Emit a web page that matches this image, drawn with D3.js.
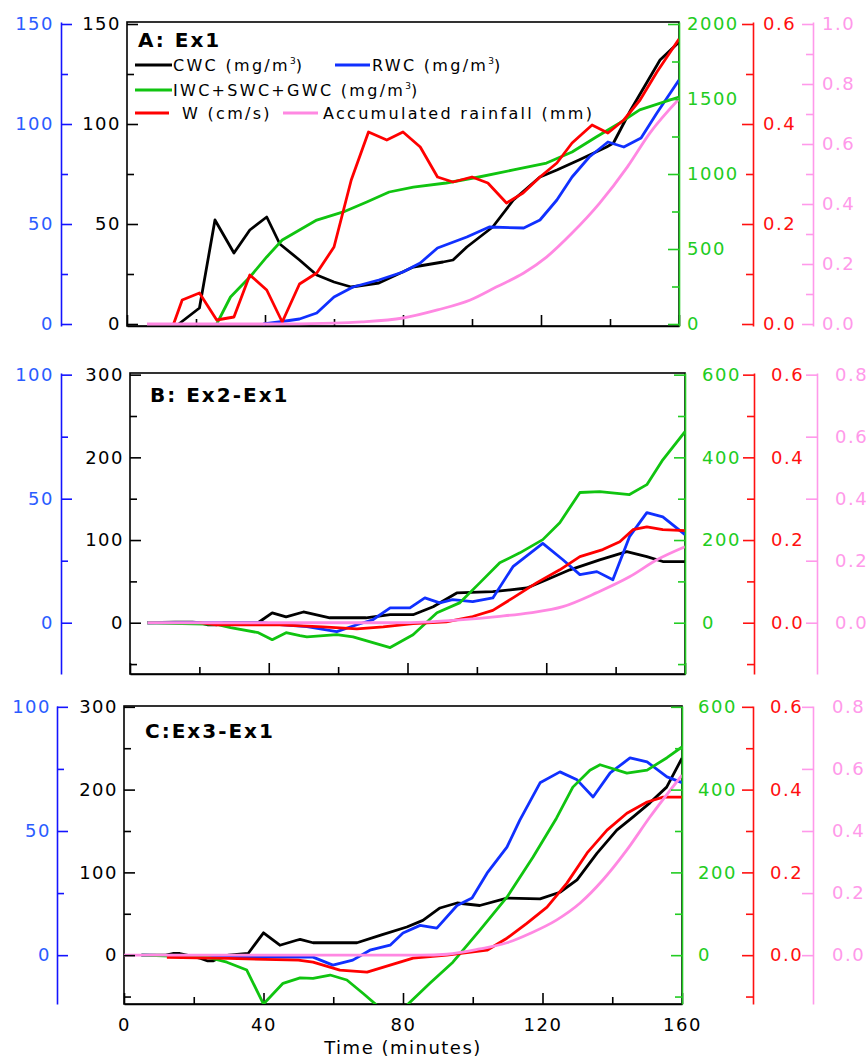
<!DOCTYPE html>
<html>
<meta charset="utf-8">
<head>
  <script src="https://d3js.org/d3.v7.min.js"></script>
  <style>
    body { margin: 0; background: #fff; }
    svg text { font-family: "DejaVu Sans", sans-serif; }
  </style>
</head>
<body>
<div id="chart"></div>
<script>
"use strict";

// ---- values: [time (min), value] ----
// panel A : Ex1
var aCWC  = [[15,0],[21,8],[25.5,52],[31,35.5],[35.6,47],[40.5,53.5],[44.3,40],[50,32],[55,24.5],[60,21],[65,18.5],[73,20.5],[83,28.5],[91.6,31],[94.5,32],[98.5,38.5],[106,48.5],[112,62],[119.7,73.5],[124.6,77],[131,82],[139,88.5],[141,90.5],[146,107],[154.5,132],[160,141]];
var aRWC  = [[39.5,0],[44,1],[50,2.5],[55,5.5],[60,13.5],[65.5,18.5],[73,22],[80,26],[85,30.5],[90,38],[98.5,43.5],[105,48.5],[115,48],[119.7,52],[124.6,62],[129,73.5],[134,83.5],[139.4,91],[144,88.5],[149,93],[153.6,105.5],[160,122]];
var aIWC  = [[26,0],[30,180],[35.6,313],[40.5,447],[45,560],[50,627],[55,693],[62.7,747],[69.5,813],[76,880],[83,913],[92.5,940],[102,980],[112,1027],[121.6,1073],[129,1147],[136,1247],[142.8,1340],[148.6,1427],[160,1513]];
var aW    = [[13.5,0],[16,0.048],[21,0.062],[26,0.008],[31,0.014],[35.6,0.098],[40.5,0.068],[45,0.004],[50,0.08],[55,0.102],[60,0.154],[65,0.288],[70,0.384],[75.3,0.368],[80,0.384],[85,0.354],[90,0.294],[94.5,0.284],[100,0.294],[104.6,0.282],[110,0.242],[114.8,0.262],[119.7,0.294],[124.6,0.322],[129,0.362],[134.8,0.398],[139.4,0.382],[144,0.408],[148.7,0.448],[153.6,0.504],[160,0.57]];
var aRain = [[5.8,0],[40,0],[60,0.003],[68,0.007],[80,0.02],[90,0.047],[99.5,0.08],[107,0.123],[115,0.17],[121.6,0.223],[129,0.303],[137,0.403],[145,0.523],[151.6,0.637],[160,0.75]];

// panel B : Ex2-Ex1
var bCWC  = [[5,0],[13,0.8],[18,0.8],[20,0],[22.5,-2.5],[25,-2.5],[27,0],[36.9,0],[41,12],[45,7],[50,13],[57.6,6],[68,6],[75,9.7],[81.6,9.7],[87.4,19.4],[94.2,36],[104.6,37.5],[114.4,42],[120.1,52],[126.8,64],[135.4,76],[143.2,86],[149,80],[153.6,74],[160,74]];
var bRWC  = [[5,0],[38,0],[43.2,-0.8],[51,-1.6],[59.6,-3.6],[65.4,-0.8],[70,1.2],[75,6],[80.7,6],[85,10],[89.3,8],[93,9.3],[98.8,8.5],[104.6,10],[110.4,22.6],[119,32],[124.8,25.4],[129.7,19.4],[134.6,20.6],[139.2,17.3],[144,34.7],[149,44.4],[153.6,42.7],[160,35.5]];
var bIWC  = [[5,0],[25,-4],[29,-12],[37,-24],[41,-41],[45,-24],[49,-31],[51,-34],[59.6,-29],[64.3,-34],[75,-60],[81.6,-29],[88.5,24],[95,48],[100.9,97],[106.6,145],[112.4,169],[119,201],[123.9,242],[129.7,315],[135.4,317],[144,310],[149,334],[153.6,394],[160,462]];
var bW    = [[20,0],[25,-0.005],[43.2,-0.005],[55.6,-0.01],[65.4,-0.015],[73,-0.01],[81.6,-0.002],[91.2,0.002],[98.8,0.015],[104.6,0.03],[110.4,0.06],[117.3,0.097],[123.9,0.128],[129.7,0.16],[136.3,0.177],[141.2,0.196],[145,0.225],[149,0.232],[153.6,0.225],[160,0.223]];
var bRain = [[5,0],[75,0],[86.5,0.003],[96,0.01],[105.8,0.02],[115.3,0.032],[124.8,0.052],[134.6,0.097],[144,0.148],[151.9,0.203],[160,0.245]];

// panel C : Ex3-Ex1
var cCWC  = [[5,0],[12,0],[14,2],[16,2],[18,0],[22,-4],[24,-7],[25.5,-7],[28,-2],[30,0],[35.6,2],[40,27],[44.7,12],[49.5,18],[50.5,19],[54.2,15],[66.8,15],[73.4,24],[81.1,34],[85.7,42],[90.6,57],[95.5,63],[102,60],[109.8,69],[119.3,68],[125,76],[129.9,91],[135.6,123],[141.3,151],[146,167],[150.8,184],[155.6,203],[160,238]];
var cRWC  = [[5,0],[45,-0.8],[54.2,-0.8],[59.9,-4],[65.6,-2],[70.5,2],[76.3,4],[80,8.9],[84.9,12],[89.7,10.9],[95.5,20],[99.8,23],[104.1,33],[109.8,43.5],[113.5,54.4],[119.3,69.4],[125,73.8],[129.9,70.6],[134.5,63.7],[139.4,73.4],[145.1,79.4],[150,77.8],[155.7,71.8],[160,69.5]];
var cIWC  = [[5,0],[23.8,-5],[29.5,-17],[35.2,-36],[40,-118],[45.6,-68],[50.5,-55],[54.2,-56],[59.1,-48],[63.9,-60],[68.5,-92],[72.5,-121],[77,-150],[81.1,-121],[87.7,-68],[94.3,-17],[102,60],[109.8,140],[117.3,237],[124,331],[128.7,406],[133.6,447],[136.5,460],[144.2,440],[150,447],[155.7,477],[160,503]];
var cW    = [[12.3,-0.005],[30,-0.008],[50,-0.012],[54.2,-0.017],[61.9,-0.036],[69.7,-0.041],[76.3,-0.024],[82.9,-0.007],[92.6,0],[104.1,0.012],[109.8,0.041],[115.5,0.077],[121.3,0.116],[127,0.174],[132.8,0.247],[138.5,0.302],[144.2,0.343],[150,0.37],[154.6,0.382],[160,0.382]];
var cRain = [[0,0],[85,0],[92.6,0.003],[102,0.02],[109.8,0.04],[116.4,0.07],[124,0.113],[130.8,0.168],[137.3,0.242],[144.2,0.339],[150.8,0.445],[160,0.58]];

// ---- tick values ----
var xMajor = [0, 40, 80, 120, 160];
var xMinor = [20, 60, 100, 140];
var ticksA = {
  cwc:  { major: [0,50,100,150], minor: [25,75,125] },
  rwc:  { major: [0,50,100,150], minor: [25,75,125] },
  iwc:  { major: [0,500,1000,1500,2000], minor: [250,750,1250,1750] },
  w:    { major: [0,0.2,0.4,0.6], minor: [0.1,0.3,0.5] },
  rain: { major: [0,0.2,0.4,0.6,0.8,1.0], minor: [0.1,0.3,0.5,0.7,0.9] }
};
var ticksBC = {
  cwc:  { major: [0,100,200,300], minor: [-50,50,150,250] },
  rwc:  { major: [0,50,100], minor: [25,75] },
  iwc:  { major: [0,200,400,600], minor: [-100,100,300,500] },
  w:    { major: [0,0.2,0.4,0.6], minor: [-0.1,0.1,0.3,0.5] },
  rain: { major: [0,0.2,0.4,0.6,0.8], minor: [] }
};

var keys = ["cwc", "rwc", "iwc", "w", "rain"];
var lineColor  = { cwc: "#000000", rwc: "#1030ff", iwc: "#10c410", w: "#ff0000", rain: "#ff88e2" };
var axisColor  = { cwc: "#000000", rwc: "#1414ff", iwc: "#22cc22", w: "#ff1010", rain: "#ff99ea" };
var textColor  = { cwc: "#000000", rwc: "#2b5cff", iwc: "#22cc22", w: "#ff1010", rain: "#ff99ea" };
var fmt = { cwc: d3.format("d"), rwc: d3.format("d"), iwc: d3.format("d"), w: d3.format(".1f"), rain: d3.format(".1f") };

var panels = [
  { title: "A: Ex1", tx: 138, ty: 47,
    left: 127, right: 679, top: 22, bottom: 326, dom: [-1, 151],
    ratio: { cwc: 1, rwc: 1, iwc: 2000/150, w: 0.6/150, rain: 1/150 },
    ax:  { rwc: 61, iwc: 679, w: 753, rain: 813 },
    pad: { cwc: 6, rwc: 7, iwc: 8, w: 10, rain: 9 },
    ticks: ticksA, xLabels: false,
    series: { cwc: aCWC, rwc: aRWC, iwc: aIWC, w: aW, rain: aRain } },
  { title: "B: Ex2-Ex1", tx: 150, ty: 402,
    left: 130, right: 685, top: 373, bottom: 674, dom: [-62, 302],
    ratio: { cwc: 1, rwc: 1/3, iwc: 2, w: 0.002, rain: 0.8/300 },
    ax:  { rwc: 61, iwc: 685, w: 754, rain: 817 },
    pad: { cwc: 6, rwc: 7, iwc: 17, w: 17, rain: 18 },
    ticks: ticksBC, xLabels: false,
    series: { cwc: bCWC, rwc: bRWC, iwc: bIWC, w: bW, rain: bRain } },
  { title: "C:Ex3-Ex1", tx: 145, ty: 738,
    left: 124, right: 682, top: 706, bottom: 1004, dom: [-59, 301],
    ratio: { cwc: 1, rwc: 1/3, iwc: 2, w: 0.002, rain: 0.8/300 },
    ax:  { rwc: 57, iwc: 682, w: 753, rain: 813 },
    pad: { cwc: 6, rwc: 6, iwc: 16, w: 17, rain: 19 },
    ticks: ticksBC, xLabels: true,
    series: { cwc: cCWC, rwc: cRWC, iwc: cIWC, w: cW, rain: cRain } }
];

var W = 868, H = 1058;
var svg = d3.select("#chart").append("svg")
    .attr("width", W).attr("height", H);
svg.append("rect").attr("width", W).attr("height", H).attr("fill", "#fff");

function styleAxis(sel, col, txtCol) {
  sel.attr("font-size", 18).attr("font-family", "DejaVu Sans, sans-serif");
  sel.select(".domain").attr("stroke", col).attr("stroke-width", 1.6);
  sel.selectAll(".tick line").attr("stroke", col).attr("stroke-width", 1.6);
  sel.selectAll(".tick text").attr("fill", txtCol).style("letter-spacing", "1.5px");
}

panels.forEach(function(p, i) {
  var g = svg.append("g");
  var x = d3.scaleLinear().domain([0, 160]).range([p.left, p.right]);
  var y = {};
  keys.forEach(function(k) {
    y[k] = d3.scaleLinear()
      .domain([p.dom[0] * p.ratio[k], p.dom[1] * p.ratio[k]])
      .range([p.bottom, p.top]);
  });

  g.append("clipPath").attr("id", "clip" + i)
    .append("rect")
      .attr("x", p.left).attr("y", p.top)
      .attr("width", p.right - p.left).attr("height", p.bottom - p.top);

  // frame
  g.append("rect")
      .attr("x", p.left).attr("y", p.top)
      .attr("width", p.right - p.left).attr("height", p.bottom - p.top)
      .attr("fill", "none").attr("stroke", "#000").attr("stroke-width", 1.6);

  // bottom time axis, ticks pointing up
  var xa = g.append("g").attr("transform", "translate(0," + p.bottom + ")")
      .call(d3.axisBottom(x).tickValues(xMajor).tickSize(-11).tickSizeOuter(0).tickPadding(14)
        .tickFormat(p.xLabels ? d3.format("d") : ""));
  styleAxis(xa, "#000", "#000");
  var xm = g.append("g").attr("transform", "translate(0," + p.bottom + ")")
      .call(d3.axisBottom(x).tickValues(xMinor).tickSize(-7).tickSizeOuter(0).tickFormat(""));
  styleAxis(xm, "#000", "#000");
  xm.select(".domain").remove();

  // curves
  var plot = g.append("g").attr("clip-path", "url(#clip" + i + ")");
  keys.forEach(function(k) {
    var line = d3.line()
      .x(function(d) { return x(d[0]); })
      .y(function(d) { return y[k](d[1]); })
      .curve(k === "rain" ? d3.curveMonotoneX : d3.curveLinear);
    plot.append("path")
      .datum(p.series[k])
      .attr("d", line)
      .attr("fill", "none")
      .attr("stroke", lineColor[k])
      .attr("stroke-width", 2.8)
      .attr("stroke-linejoin", "round");
  });

  // vertical axes: black and blue ticks point right, the others point left
  var axPos = { cwc: p.left, rwc: p.ax.rwc, iwc: p.ax.iwc, w: p.ax.w, rain: p.ax.rain };
  keys.forEach(function(k) {
    var make = (k === "cwc" || k === "rwc") ? d3.axisLeft : d3.axisRight;
    var gm = g.append("g").attr("transform", "translate(" + axPos[k] + ",0)")
      .call(make(y[k]).tickValues(p.ticks[k].major).tickSize(-11).tickSizeOuter(0)
        .tickPadding(p.pad[k]).tickFormat(fmt[k]));
    styleAxis(gm, axisColor[k], textColor[k]);
    if (k === "cwc") gm.select(".domain").remove();
    if (p.ticks[k].minor.length) {
      var gn = g.append("g").attr("transform", "translate(" + axPos[k] + ",0)")
        .call(make(y[k]).tickValues(p.ticks[k].minor).tickSize(-7).tickSizeOuter(0).tickFormat(""));
      styleAxis(gn, axisColor[k], textColor[k]);
      gn.select(".domain").remove();
    }
  });

  g.append("text")
    .attr("x", p.tx).attr("y", p.ty)
    .attr("font-size", 20).attr("font-weight", "bold")
    .style("letter-spacing", "2px")
    .text(p.title);

  if (p.xLabels) {
    g.append("text")
      .attr("x", (p.left + p.right) / 2).attr("y", 1054)
      .attr("text-anchor", "middle")
      .attr("font-size", 18)
      .style("letter-spacing", "1.5px")
      .text("Time (minutes)");
  }
});

// legend of panel A
var legendItems = [
  { k: "cwc",  x1: 135, x2: 172, tx: 173, y: 65,  label: "CWC (mg/m", sup: true },
  { k: "rwc",  x1: 335, x2: 370, tx: 372, y: 65,  label: "RWC (mg/m", sup: true },
  { k: "iwc",  x1: 135, x2: 172, tx: 173, y: 90,  label: "IWC+SWC+GWC (mg/m", sup: true },
  { k: "w",    x1: 135, x2: 169, tx: 182, y: 113, label: "W (cm/s)", sup: false },
  { k: "rain", x1: 283, x2: 318, tx: 323, y: 113, label: "Accumulated rainfall (mm)", sup: false }
];
var leg = svg.append("g");
legendItems.forEach(function(d) {
  leg.append("line")
    .attr("x1", d.x1).attr("x2", d.x2).attr("y1", d.y).attr("y2", d.y)
    .attr("stroke", lineColor[d.k]).attr("stroke-width", 2.8);
  var t = leg.append("text")
    .attr("x", d.tx).attr("y", d.y + 6)
    .attr("font-size", 16)
    .style("letter-spacing", "2.3px")
    .text(d.label);
  if (d.sup) {
    t.append("tspan").attr("dy", -7).attr("font-size", 9).style("letter-spacing", "0px").text("3");
    t.append("tspan").attr("dy", 7).text(")");
  }
});
</script>
</body>
</html>
